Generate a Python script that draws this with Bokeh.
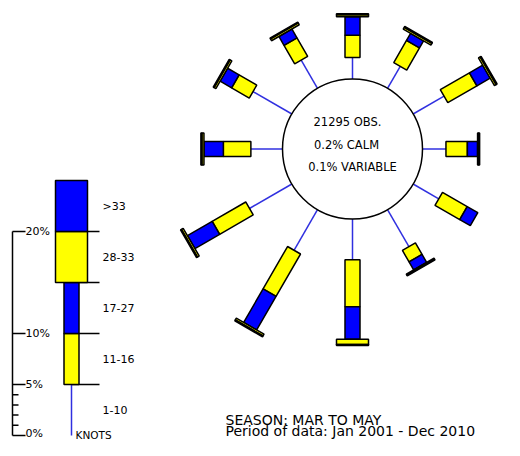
import math
from bokeh.plotting import figure
from bokeh.models import Range1d
from bokeh.core.properties import value
from bokeh.embed import file_html
from bokeh.resources import INLINE

# ---------------- data ----------------
directions = [0, 30, 60, 90, 120, 150, 180, 210, 240, 270, 300, 330]   # degrees, clockwise from N
pct_1_10  = [2.1, 2.5, 3.5, 2.3, 2.9, 4.2, 4.0, 4.6, 4.8, 3.1, 4.4, 3.2]
pct_11_16 = [2.2, 2.5, 3.3, 2.1, 2.8, 1.3, 4.6, 4.8, 3.8, 2.7, 2.0, 2.1]
pct_17_27 = [1.8, 0.8, 1.5, 1.0, 1.2, 0.9, 3.2, 3.8, 2.8, 1.9, 1.3, 1.0]
pct_28_33 = [0.2, 0.2, 0.2, 0.1, 0.0, 0.1, 0.5, 0.2, 0.2, 0.2, 0.2, 0.2]
pct_gt_33 = [0.1, 0.1, 0.1, 0.1, 0.0, 0.1, 0.1, 0.1, 0.1, 0.1, 0.1, 0.1]

speed_labels = ["1-10", "11-16", "17-27", "28-33", ">33"]
legend_pct = [5, 5, 5, 5, 5]
axis_ticks = [0, 5, 10, 20]
axis_tick_labels = ["0%", "5%", "10%", "20%"]
minor_ticks = [1, 2, 3, 4]

centre_lines = ["21295 OBS.", "0.2% CALM", "0.1% VARIABLE"]
footer_lines = ["SEASON: MAR TO MAY", "Period of data: Jan 2001 - Dec 2010"]
units_label = "KNOTS"

# ---------------- layout ----------------
W, H = 504, 440
PX = 10.2                 # pixels per percent
CX, CY = 352.0, 148.5     # pixel position of rose centre inside the figure
def ux(px): return (px - CX) / PX
def uy(py): return (CY - py) / PX

R = 70.0 / PX             # calm circle radius
NARROW = 15.0 / PX
WIDE = 32.0 / PX
YEL = "#ffff00"
BLU = "#0000ff"
LINE_BLUE = "#3030e0"
FONT = value("DejaVu Sans")

p = figure(width=W, height=H,
           x_range=Range1d(ux(0), ux(W)), y_range=Range1d(uy(H), uy(0)),
           output_backend="svg", toolbar_location=None, min_border=0)
p.axis.visible = False
p.grid.visible = False
p.outline_line_color = None
p.background_fill_color = "white"

# ---------------- rose ----------------
seg = dict(x0=[], y0=[], x1=[], y1=[])
narrow = dict(x=[], y=[], w=[], a=[], c=[])
wide = dict(x=[], y=[], w=[], a=[], c=[])
for i, d in enumerate(directions):
    th = math.radians(90 - d)
    c, s = math.cos(th), math.sin(th)
    r = R
    seg["x0"].append(r * c); seg["y0"].append(r * s)
    r += pct_1_10[i]
    seg["x1"].append(r * c); seg["y1"].append(r * s)
    for pct, col, tgt in [(pct_11_16[i], YEL, narrow), (pct_17_27[i], BLU, narrow),
                          (pct_28_33[i], YEL, wide), (pct_gt_33[i], BLU, wide)]:
        if pct > 0:
            m = r + pct / 2
            tgt["x"].append(m * c); tgt["y"].append(m * s)
            tgt["w"].append(pct); tgt["a"].append(th); tgt["c"].append(col)
        r += pct

p.segment(x0=seg["x0"], y0=seg["y0"], x1=seg["x1"], y1=seg["y1"],
          line_color=LINE_BLUE, line_width=1.5)
p.circle(x=[0], y=[0], radius=R, fill_color="white", line_color="black", line_width=1.5)
p.rect(x=narrow["x"], y=narrow["y"], width=narrow["w"], height=NARROW, angle=narrow["a"],
       fill_color=narrow["c"], line_color="black", line_width=1.5)
p.rect(x=wide["x"], y=wide["y"], width=wide["w"], height=WIDE, angle=wide["a"],
       fill_color=wide["c"], line_color="black", line_width=1.5)

p.text(x=[ux(347), ux(346), ux(352)], y=[uy(121), uy(144), uy(166)], text=centre_lines,
       text_font=FONT, text_font_size="11.5px", text_align="center",
       text_baseline="middle", text_color="black")

# ---------------- legend ----------------
LX = ux(71)
BASE = uy(435)
AX = ux(12)
# scale axis
p.segment(x0=[AX], y0=[BASE], x1=[AX], y1=[BASE + max(axis_ticks)], line_color="black", line_width=1.5)
p.segment(x0=[AX] * len(axis_ticks), y0=[BASE + t for t in axis_ticks],
          x1=[ux(25)] * len(axis_ticks), y1=[BASE + t for t in axis_ticks],
          line_color="black", line_width=1.5)
p.segment(x0=[AX] * len(minor_ticks), y0=[BASE + t for t in minor_ticks],
          x1=[ux(18)] * len(minor_ticks), y1=[BASE + t for t in minor_ticks],
          line_color="black", line_width=1.5)
p.text(x=[ux(25)] * len(axis_ticks), y=[BASE + t + (0.2 if t == 0 else 0) for t in axis_ticks],
       text=axis_tick_labels, text_font=FONT, text_font_size="11px", text_align="left",
       text_baseline="middle", text_color="black")

# legend bar
bounds = [BASE]
for v in legend_pct:
    bounds.append(bounds[-1] + v)
p.segment(x0=[LX] * 4, y0=bounds[1:5], x1=[ux(99)] * 4, y1=bounds[1:5],
          line_color="black", line_width=1.5)
p.segment(x0=[LX], y0=[bounds[0]], x1=[LX], y1=[bounds[1]], line_color=LINE_BLUE, line_width=1.5)
widths = [NARROW, NARROW, WIDE, WIDE]
cols = [YEL, BLU, YEL, BLU]
p.quad(left=[LX - w / 2 for w in widths], right=[LX + w / 2 for w in widths],
       bottom=bounds[1:5], top=bounds[2:6], fill_color=cols, line_color="black", line_width=1.5)
p.text(x=[ux(102)] * 5, y=[(bounds[k] + bounds[k + 1]) / 2 for k in range(5)], text=speed_labels,
       text_font=FONT, text_font_size="11px", text_align="left",
       text_baseline="middle", text_color="black")
p.text(x=[ux(75)], y=[uy(434)], text=[units_label], text_font=FONT, text_font_size="10.5px",
       text_align="left", text_baseline="alphabetic", text_color="black")

# footer
p.text(x=[ux(225)] * 2, y=[uy(419.5), uy(430.5)], text=footer_lines, text_font=FONT,
       text_font_size="14px", text_align="left", text_baseline="alphabetic", text_color="black")

open("out.html", "w").write(file_html(p, INLINE))
